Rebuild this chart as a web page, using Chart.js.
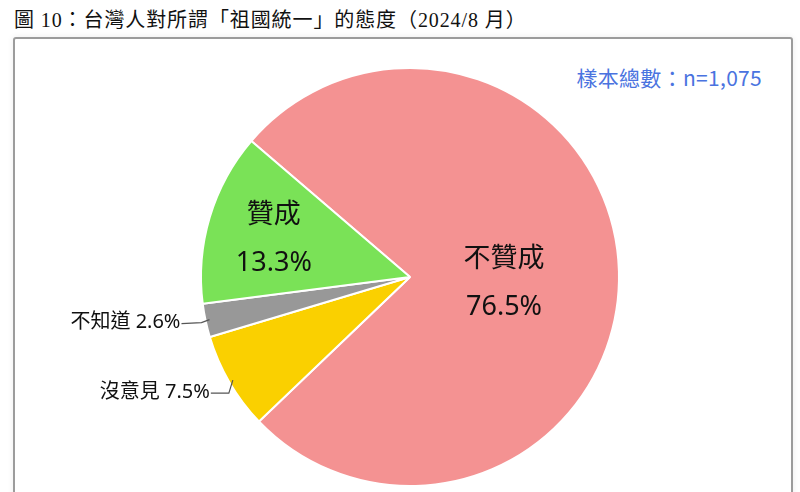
<!DOCTYPE html>
<html>
<head>
<meta charset="utf-8">
<script src="https://cdn.jsdelivr.net/npm/chart.js@4.4.1/dist/chart.umd.min.js"></script>
<style>
  html, body { margin: 0; padding: 0; background: #fff; }
  body { width: 800px; height: 492px; position: relative; overflow: hidden; }
  #title { position: absolute; left: 14px; top: 4px; font-family: "Liberation Serif", "Noto Sans CJK TC", serif; font-size: 20px; color: #111; white-space: nowrap; letter-spacing: 0.9px; }
  #box { position: absolute; left: 13px; top: 37px; width: 776px; height: 480px; border: 2px solid #9c9c9c; border-radius: 3px; box-shadow: 0 0 6px rgba(0,0,0,0.08); }
  #sample { position: absolute; right: 38px; top: 62px; font-family: "Noto Sans CJK TC", sans-serif; font-size: 21px; color: #4a73e0; white-space: nowrap; letter-spacing: 0.3px; }
  #wrap { position: absolute; left: 0; top: 0; width: 800px; height: 492px; }
</style>
</head>
<body>
<div id="title">圖 10：台灣人對所謂「祖國統一」的態度（2024/8 月）</div>
<div id="box"></div>
<div id="sample">樣本總數：n=1,075</div>
<div id="wrap"><canvas id="c" width="800" height="492"></canvas></div>
<script>
const categories = ["不贊成", "沒意見", "不知道", "贊成"];
const values = [76.5, 7.5, 2.6, 13.3];
const valueLabels = ["76.5%", "7.5%", "2.6%", "13.3%"];
const colors = ["#f49292", "#fad000", "#989898", "#7ae257"];

// label styling: inside (two lines) or outside with leader line
const labelStyle = [
  { mode: "inside", rFrac: 0.45, dy: 9 },
  { mode: "outside", elbow: [[-4, 13], [-18, 13]] },
  { mode: "outside", elbow: [[-8, 3], [-20, 4]] },
  { mode: "inside", rFrac: 0.68, dy: 3 }
];

const labelPlugin = {
  id: "sliceLabels",
  afterDatasetsDraw(chart) {
    const ctx = chart.ctx;
    const meta = chart.getDatasetMeta(0);
    meta.data.forEach((arc, i) => {
      const st = labelStyle[i];
      const mid = (arc.startAngle + arc.endAngle) / 2;
      ctx.save();
      ctx.fillStyle = "#111";
      if (st.mode === "inside") {
        const r = arc.outerRadius * st.rFrac;
        const x = arc.x + Math.cos(mid) * r;
        const y = arc.y + Math.sin(mid) * r + st.dy;
        ctx.font = '27px "Noto Sans", "Noto Sans CJK TC", sans-serif';
        ctx.textAlign = "center";
        ctx.textBaseline = "middle";
        ctx.fillText(categories[i], x, y - 24);
        ctx.fillText(valueLabels[i], x, y + 24);
      } else {
        const r = arc.outerRadius - 4;
        const x0 = arc.x + Math.cos(mid) * r;
        const y0 = arc.y + Math.sin(mid) * r;
        const p1 = [x0 + st.elbow[0][0], y0 + st.elbow[0][1]];
        const p2 = [x0 + st.elbow[0][0] + st.elbow[1][0], y0 + st.elbow[1][1]];
        ctx.strokeStyle = "#555";
        ctx.lineWidth = 1.2;
        ctx.beginPath();
        ctx.moveTo(x0, y0);
        ctx.lineTo(p1[0], p1[1]);
        ctx.lineTo(p2[0], p2[1]);
        ctx.stroke();
        ctx.font = '20px "Noto Sans", "Noto Sans CJK TC", sans-serif';
        ctx.textAlign = "right";
        ctx.textBaseline = "middle";
        ctx.fillText(categories[i] + " " + valueLabels[i], p2[0] - 1, p2[1] - 1);
      }
      ctx.restore();
    });
  }
};

new Chart(document.getElementById("c"), {
  type: "pie",
  data: {
    labels: categories,
    datasets: [{
      data: values,
      backgroundColor: colors,
      borderColor: "#ffffff",
      borderWidth: 2
    }]
  },
  options: {
    responsive: false,
    animation: false,
    devicePixelRatio: 1,
    rotation: -49.4,
    layout: { padding: { left: 200, right: 180, top: 67, bottom: 5 } },
    plugins: {
      legend: { display: false },
      tooltip: { enabled: false },
      title: { display: false }
    }
  },
  plugins: [labelPlugin]
});
</script>
</body>
</html>
